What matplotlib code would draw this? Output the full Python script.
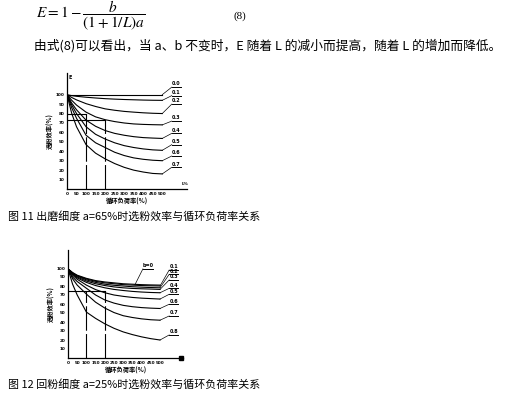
import numpy as np
import matplotlib
matplotlib.use("Agg")
import matplotlib.pyplot as plt

plt.rcParams['font.family'] = ['Noto Sans CJK SC', 'DejaVu Sans']
plt.rcParams['mathtext.fontset'] = 'stix'

# ---- data ----
load_x = [0, 25, 50, 100, 150, 200, 250, 300, 350, 400, 450, 500]

# fig 11 (a = 65%)
fig11_curves = [
    [100, 100, 100, 100, 100, 100, 100, 100, 100, 100, 100, 100],
    [100, 99, 98.3, 97.3, 96.5, 95.8, 95.3, 94.9, 94.6, 94.3, 94.1, 94],
    [100, 97, 94.5, 90.5, 87.5, 85, 83.5, 82.3, 81.5, 80.8, 80.3, 80],
    [100, 94, 89, 81.5, 76.5, 73.5, 71.5, 70, 69, 68.5, 68.2, 68],
    [100, 91, 84, 73, 66.5, 62, 59, 57, 55.5, 54.5, 54, 53.6],
    [100, 89, 80, 66, 58, 53, 49, 46, 44, 42.5, 41.5, 41],
    [100, 86, 75, 57, 49, 44, 39, 35.5, 33, 31.5, 30.5, 30],
    [100, 80, 66, 47, 38, 32, 27, 23, 20, 18, 16.5, 16],
]
fig11_labels = ["0.0", "0.1", "0.2", "0.3", "0.4", "0.5", "0.6", "0.7"]
fig11_label_y = [108, 99, 90, 72, 59, 47, 35, 23]

# fig 12 (a = 25%)
fig12_curves = [
    [99, 95, 92, 88.5, 86, 84.5, 83.5, 82.5, 82, 81.5, 81.2, 81],
    [99, 94.5, 91.5, 87.8, 85.2, 83.5, 82.5, 81.5, 81, 80.5, 80.2, 80],
    [99, 94, 91, 86.8, 84, 82, 80.8, 80, 79.2, 78.7, 78.3, 78],
    [99, 93.5, 90, 85.5, 82.5, 80.5, 79, 78, 77.3, 76.9, 76.6, 76.2],
    [99, 93, 89, 84, 80.5, 78, 76.2, 75, 74, 73.3, 72.8, 72.5],
    [99, 92, 87.5, 81, 76, 72.5, 70, 68.5, 67.3, 66.5, 66, 65.5],
    [99, 90, 85, 77.5, 70, 64.5, 61, 58.5, 57, 56, 55.4, 55],
    [99, 88, 81, 71, 62, 55.5, 50.5, 47, 45, 43.5, 42.5, 42],
    [99, 82, 70, 51, 44, 38, 33, 29, 26, 23.5, 21.5, 20],
]
fig12_inner_label = "b=0"
fig12_labels = ["0.1", "0.2", "0.3", "0.4", "0.5", "0.6", "0.7", "0.8"]
fig12_label_y = [97.8, 93, 86.7, 77.4, 70.8, 59.7, 46.7, 25.6]

y_ticks = [10, 20, 30, 40, 50, 60, 70, 80, 90, 100]
x_ticks = [0, 50, 100, 150, 200, 250, 300, 350, 400, 450, 500]

W, H = 505, 397
fig = plt.figure(figsize=(W / 100, H / 100), dpi=100)


def px_axes(l, t, r, b):
    return fig.add_axes([l / W, 1 - b / H, (r - l) / W, (b - t) / H])


def draw_chart(ax, curves, labels, label_y, xmax, ymax, hlines, vlines):
    lw = 0.8
    for ys in curves:
        ax.plot(load_x, ys, color='black', lw=lw)
    for (y0, x1) in hlines:
        ax.plot([0, x1], [y0, y0], color='black', lw=lw)
    for (x0, y1) in vlines:
        ax.plot([x0, x0], [0, y1], color='black', lw=lw, linestyle=(0, (22, 3)))
    # leaders and labels at the right end
    for ys, lab, ly in zip(curves[-len(labels):], labels, label_y):
        ax.plot([500, 550], [ys[-1], ly], color='black', lw=0.5, clip_on=False)
        ax.plot([550, 600], [ly, ly], color='black', lw=0.7, clip_on=False)
        ax.text(575, ly + 0.8, lab, fontsize=3.5, ha='center', va='bottom',
                family='DejaVu Sans', fontweight='bold', clip_on=False)
    ax.set_xlim(0, xmax)
    ax.set_ylim(0, ymax)
    for s in ['top', 'right']:
        ax.spines[s].set_visible(False)
    for s in ['left', 'bottom']:
        ax.spines[s].set_linewidth(0.9)
    ax.set_xticks(x_ticks)
    ax.set_yticks(y_ticks)
    ax.set_xticklabels([str(v) for v in x_ticks], fontsize=3, family='DejaVu Sans', fontweight='bold')
    ax.set_yticklabels([str(v) for v in y_ticks], fontsize=3, family='DejaVu Sans', fontweight='bold')
    ax.tick_params(length=0, pad=2)
    ax.set_xlabel("循环负荷率(%)", fontsize=4.5, labelpad=1.5, fontweight='bold')
    ax.set_ylabel("选粉效率(%)", fontsize=4.5, labelpad=1, fontweight='bold')
    ax.patch.set_alpha(0)


# top text
fig.text(36 / W, 1 - 16 / H, r"$E=1-\dfrac{b}{\left(1+1/L\right)a}$", fontsize=11,
         va='center', ha='left')
fig.text(233 / W, 1 - 16 / H, "(8)", fontsize=8, va='center', ha='left', family='Liberation Serif')
fig.text(34 / W, 1 - 46 / H,
         "由式(8)可以看出，当 a、b 不变时，E 随着 L 的减小而提高，随着 L 的增加而降低。",
         fontsize=9.2, va='center', ha='left')

# figure 11
ax1 = px_axes(67, 73, 187, 189)
draw_chart(ax1, fig11_curves, fig11_labels, fig11_label_y, 630, 123,
           hlines=[(80, 100), (73.5, 200)], vlines=[(100, 80), (200, 73.5)])
ax1.text(6, 118, "E", fontsize=3.5, family='DejaVu Sans', fontweight='bold', va='center')
ax1.text(600, 3, "L%", fontsize=3, family='DejaVu Sans', fontweight='bold', va='bottom')
fig.text(8 / W, 1 - 216 / H, "图 11 出磨细度 a=65%时选粉效率与循环负荷率关系",
         fontsize=7.9, va='center', ha='left')

# figure 12
ax2 = px_axes(68, 250, 183, 358)
draw_chart(ax2, fig12_curves, fig12_labels, fig12_label_y, 625, 120,
           hlines=[(75, 200)], vlines=[(100, 75), (200, 75)])
ax2.plot([364, 407], [81.5, 99], color='black', lw=0.5)
ax2.plot([407, 462], [99, 99], color='black', lw=0.7)
ax2.text(434, 99.8, fig12_inner_label, fontsize=3.5, ha='center', va='bottom',
         family='DejaVu Sans', fontweight='bold')
ax2.plot([612], [0], marker='s', color='black', markersize=2.5, clip_on=False)
fig.text(8 / W, 1 - 384 / H, "图 12 回粉细度 a=25%时选粉效率与循环负荷率关系",
         fontsize=7.9, va='center', ha='left')

fig.savefig("out.png", dpi=100)
